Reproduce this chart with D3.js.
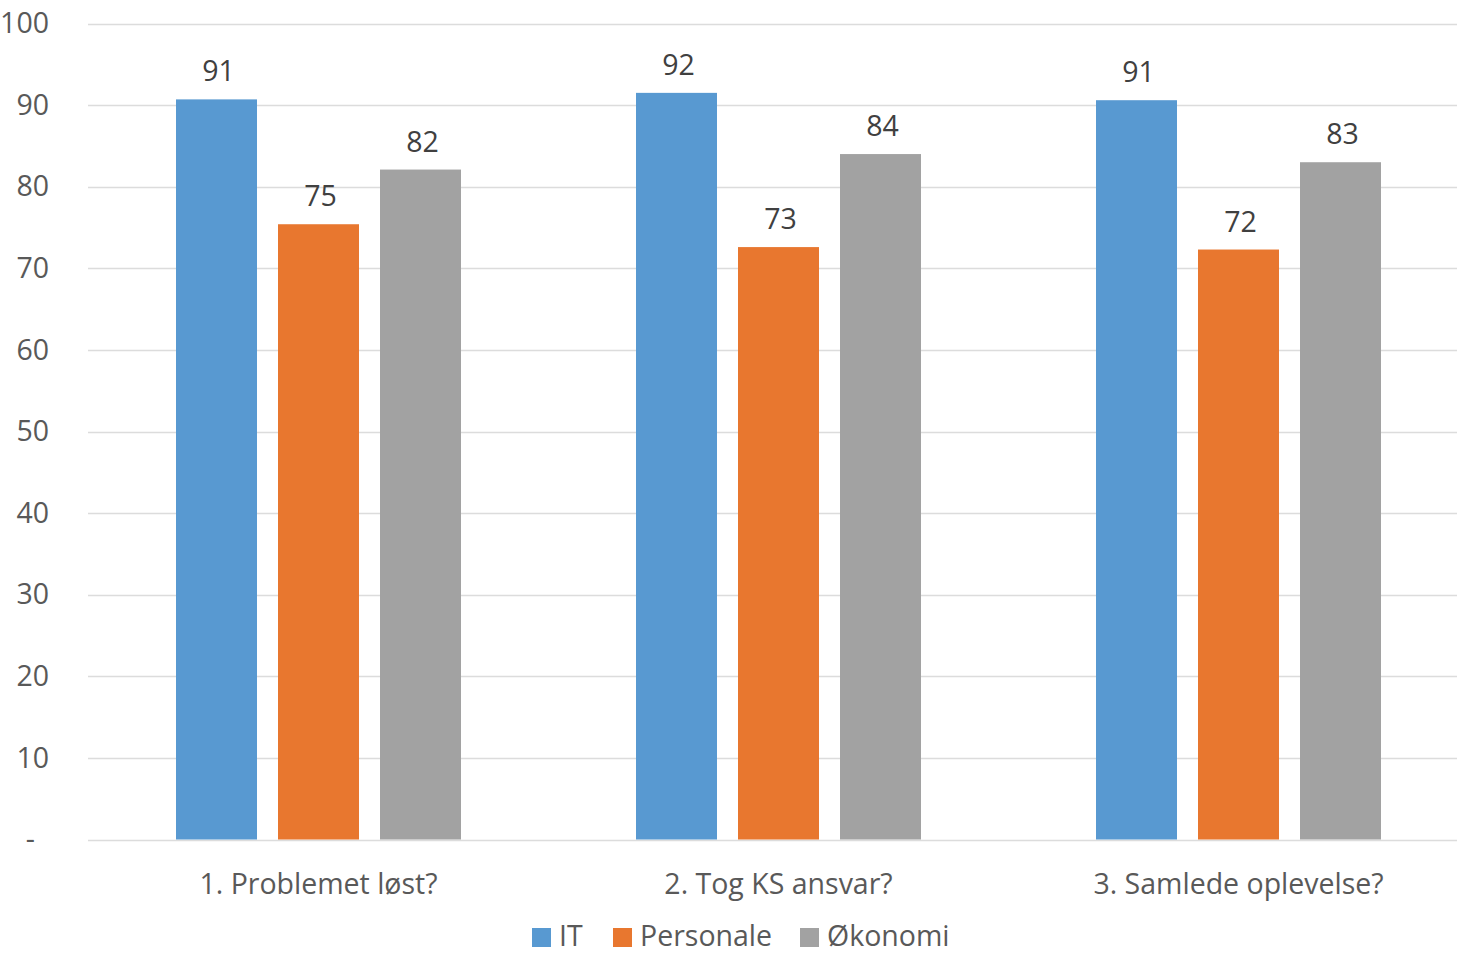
<!DOCTYPE html>
<html>
<head>
<meta charset="utf-8">
<script src="https://cdn.jsdelivr.net/npm/d3@7"></script>
<style>
  body { margin: 0; background: #fff; }
  svg { display: block; font-family: "Open Sans", "Noto Sans", sans-serif; }
</style>
</head>
<body>
<svg id="chart" width="1457" height="954"></svg>
<script>
// data
var categories = ["1. Problemet løst?", "2. Tog KS ansvar?", "3. Samlede oplevelse?"];
var seriesNames = ["IT", "Personale", "Økonomi"];
var itValues = [90.7, 91.5, 90.6];
var personaleValues = [75.4, 72.6, 72.3];
var okonomiValues = [82.1, 84.0, 83.0];
var yTicks = [0, 10, 20, 30, 40, 50, 60, 70, 80, 90, 100];
var colors = ["#5899D1", "#E8772F", "#A2A2A2"];

var allSeries = [itValues, personaleValues, okonomiValues];
var fs = 28.5;

var svg = d3.select("#chart");

var y = d3.scaleLinear().domain([0, 100]).range([839.5, 23.5]);

var x0 = d3.scaleBand().domain(categories).range([88.5, 1468.5]).padding(0);
var groupW = 285;
var x1 = d3.scaleBand().domain(seriesNames).range([0, groupW]).paddingInner(0.206).paddingOuter(0);

// gridlines
svg.append("g").selectAll("line")
  .data(yTicks)
  .enter().append("line")
  .attr("x1", 88).attr("x2", 1457)
  .attr("y1", function(d) { return Math.round(y(d)) + 0.5; })
  .attr("y2", function(d) { return Math.round(y(d)) + 0.5; })
  .attr("stroke", "#dcdcdc")
  .attr("stroke-width", 1.5);

// y axis labels
var yAxis = d3.axisLeft(y).tickValues(yTicks)
  .tickSize(0).tickPadding(0)
  .tickFormat(function(d) { return d == 0 ? "-" : d; });

var ya = svg.append("g").attr("transform", "translate(49,0)").call(yAxis);
ya.select(".domain").remove();
ya.selectAll("text")
  .attr("font-size", fs).attr("fill", "#595959")
  .attr("font-family", "Open Sans, Noto Sans, sans-serif")
  .attr("dx", function(d) { return d == 0 ? -14 : 0; });

// bars
var groups = svg.append("g").selectAll("g")
  .data(categories)
  .enter().append("g")
  .attr("transform", function(c) { return "translate(" + (x0(c) + (x0.bandwidth() - groupW) / 2) + ",0)"; });

groups.selectAll("rect")
  .data(function(c, i) { return seriesNames.map(function(s, j) { return {s: s, j: j, v: allSeries[j][i]}; }); })
  .enter().append("rect")
  .attr("x", function(d) { return x1(d.s); })
  .attr("width", x1.bandwidth())
  .attr("y", function(d) { return y(d.v); })
  .attr("height", function(d) { return y(0) - y(d.v); })
  .attr("fill", function(d) { return colors[d.j]; });

groups.selectAll("text")
  .data(function(c, i) { return seriesNames.map(function(s, j) { return {s: s, j: j, v: allSeries[j][i]}; }); })
  .enter().append("text")
  .attr("x", function(d) { return x1(d.s) + x1.bandwidth() / 2 + 2; })
  .attr("y", function(d) { return y(d.v) - 18; })
  .attr("text-anchor", "middle")
  .attr("font-size", fs)
  .attr("fill", "#404040")
  .text(function(d) { return d3.format(".0f")(d.v); });

// category labels
var xAxis = d3.axisBottom(x0).tickSize(0).tickPadding(0);
var xa = svg.append("g").attr("transform", "translate(0,868)").call(xAxis);
xa.select(".domain").remove();
xa.selectAll("text")
  .attr("font-size", fs).attr("fill", "#595959")
  .attr("font-family", "Open Sans, Noto Sans, sans-serif")
  .attr("dy", "0.9em");

// legend (nudged up a little so descenders stay inside the frame)
var legendX = [532, 613, 800];
var legend = svg.append("g").selectAll("g")
  .data(seriesNames)
  .enter().append("g")
  .attr("transform", function(d, i) { return "translate(" + legendX[i] + ",928)"; });
legend.append("rect")
  .attr("width", 19).attr("height", 19)
  .attr("fill", function(d, i) { return colors[i]; });
legend.append("text")
  .attr("x", 27).attr("y", 18)
  .attr("font-size", fs).attr("fill", "#595959")
  .text(function(d) { return d; });
</script>
</body>
</html>
